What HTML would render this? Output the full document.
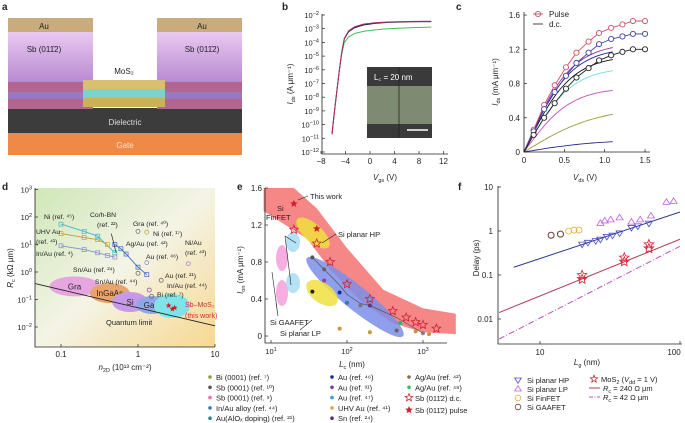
<!DOCTYPE html>
<html><head><meta charset="utf-8">
<style>
html,body{margin:0;padding:0;background:#fff;}
svg{display:block;font-family:"Liberation Sans",sans-serif;}
text{fill:#222;}
</style></head>
<body>
<svg id="fig" width="685" height="423" viewBox="0 0 685 423" xmlns="http://www.w3.org/2000/svg">
<defs>
<linearGradient id="gd" x1="0" y1="0" x2="1" y2="1">
<stop offset="0" stop-color="#cfe7b8"/><stop offset="0.5" stop-color="#f4f4e6"/><stop offset="1" stop-color="#f7d890"/>
</linearGradient>
<linearGradient id="gsb" x1="0" y1="0" x2="0" y2="1">
<stop offset="0" stop-color="#e9c9f1"/><stop offset="1" stop-color="#b98ad0"/>
</linearGradient>
</defs>
<g>
<text x="2" y="10" font-weight="bold" font-size="10">a</text>
<rect x="8" y="108" width="234" height="25" fill="#3c3c3c"/>
<rect x="8" y="133" width="234" height="22" fill="#ee8a45"/>
<text x="125" y="148" font-size="8" text-anchor="middle" style="fill:#fde0c8">Gate</text>
<text x="125" y="125" font-size="8" text-anchor="middle" style="fill:#ddd">Dielectric</text>
<rect x="8" y="32" width="85" height="50" fill="url(#gsb)"/>
<rect x="157" y="32" width="85" height="50" fill="url(#gsb)"/>
<rect x="8" y="82" width="85" height="27" fill="#b2668f"/>
<rect x="157" y="82" width="85" height="27" fill="#b2668f"/>
<rect x="8" y="92" width="85" height="7" fill="#8d7fd0" opacity="0.8"/>
<rect x="157" y="92" width="85" height="7" fill="#8d7fd0" opacity="0.8"/>
<rect x="8" y="18" width="85" height="14" fill="#c9ab7e"/>
<rect x="157" y="18" width="85" height="14" fill="#c9ab7e"/>
<text x="44" y="29" font-size="8" text-anchor="middle">Au</text>
<text x="202" y="29" font-size="8" text-anchor="middle">Au</text>
<text x="44" y="52" font-size="8" text-anchor="middle">Sb (011̄2)</text>
<text x="202" y="52" font-size="8" text-anchor="middle">Sb (011̄2)</text>
<rect x="83" y="80" width="82" height="9" fill="#d9c070"/>
<rect x="83" y="89" width="82" height="9" fill="#7fd2c8"/>
<rect x="83" y="98" width="82" height="9" fill="#c9b25a"/>
<text x="124" y="74" font-size="8" text-anchor="middle">MoS₂</text>
</g>
<text x="282" y="10" font-weight="bold" font-size="10">b</text>
<text x="456" y="10" font-weight="bold" font-size="10">c</text>
<text x="2" y="190" font-weight="bold" font-size="10">d</text>
<text x="237" y="190" font-weight="bold" font-size="10">e</text>
<text x="458" y="190" font-weight="bold" font-size="10">f</text>
<g id="gb"></g>
<g id="gc"></g>
<g id="gdd"></g>
<g id="ge"></g>
<g id="gf"></g>
</svg>
<script>
// ---- panel b data ----
const bVgs = [-6.2, -5.8, -5.4, -5, -4.6, -4.2, -3.5, -2.5, -1, 1, 3, 5, 7, 10];
const bPurple = [2e-11, 1e-9, 3e-8, 1e-6, 2e-5, 2e-4, 7e-4, 1.4e-3, 2.2e-3, 2.8e-3, 3.1e-3, 3.3e-3, 3.4e-3, 3.5e-3];
const bBlack = [2e-11, 1e-9, 3e-8, 1e-6, 2e-5, 1.8e-4, 6e-4, 1.2e-3, 1.9e-3, 2.5e-3, 2.9e-3, 3.1e-3, 3.2e-3, 3.3e-3];
const bGreen = [2e-11, 1e-9, 3e-8, 1e-6, 1.5e-5, 1e-4, 2.5e-4, 4.5e-4, 6.5e-4, 8.5e-4, 1e-3, 1.1e-3, 1.2e-3, 1.3e-3];
const bXTicks = [-8, -4, 0, 4, 8, 12];
const bYTicks = [-2, -3, -4, -5, -6, -7, -8, -9, -10, -11, -12];
// ---- panel c data ----
const cVpulse = [0, 0.12, 0.25, 0.38, 0.52, 0.65, 0.8, 0.93, 1.08, 1.22, 1.35, 1.5];
const cRed = [0, 0.26, 0.55, 0.78, 0.99, 1.16, 1.29, 1.39, 1.45, 1.49, 1.53, 1.53];
const cBlue = [0, 0.24, 0.5, 0.7, 0.89, 1.04, 1.16, 1.26, 1.32, 1.35, 1.38, 1.38];
const cBlack = [0, 0.2, 0.4, 0.57, 0.74, 0.87, 0.98, 1.07, 1.13, 1.17, 1.2, 1.2];
const cDcMax = [1.22, 1.17, 1.08, 0.95, 0.72, 0.44, 0.12];
const cDcColors = ["#9b2fa0", "#1e2a8a", "#111", "#6fdde0", "#c050c0", "#9a9a40", "#2a2a80"];
const cXTicks = [0, 0.5, 1.0, 1.5];
const cYTicks = [0, 0.4, 0.8, 1.2, 1.6];
// ---- panel d data ----
const dNiX = [0.1, 0.2, 0.3, 0.5];
const dNiY = [55, 30, 20, 5];
const dUhvX = [0.1, 0.2, 0.3, 0.4];
const dUhvY = [25, 18, 15, 10];
const dInX = [0.1, 0.2, 0.3, 0.4, 0.5];
const dInY = [9, 6.5, 5, 4, 3.5];
const dAgX = [0.5, 0.6, 0.7, 1.0, 1.3];
const dAgY = [10, 7, 4.5, 1.5, 0.8];
const dSingleX = [1.0, 1.3, 1.3, 4.5, 2.0, 1.5, 1.0, 1.4];
const dSingleY = [30, 28, 2.2, 2.0, 0.5, 0.13, 0.9, 0.22];
const dXTicks = [0.1, 1, 10];
const dYTicks = [3, 2, 1, 0, -1, -2];
// ---- panel e data ----
const eDcL = [20, 40, 60, 100, 200, 400, 600, 800, 1000, 1500];
const eDcI = [1.15, 1.0, 0.8, 0.56, 0.4, 0.27, 0.2, 0.15, 0.12, 0.08];
const ePulseL = [20, 40];
const ePulseI = [1.43, 1.16];
const eDotL = [35, 50, 80, 100, 150, 200, 450, 500, 800, 1000, 1200, 80, 200, 35, 50];
const eDotI = [0.85, 0.72, 0.47, 0.36, 0.33, 0.33, 0.06, 0.14, 0.05, 0.03, 0.02, 0.08, 0.04, 0.48, 0.6];
const eDotC = ["#555", "#666", "#1a2aa0", "#2c7bb8", "#777", "#6a2a8a", "#666", "#2bb673", "#c9953f", "#888", "#c9953f", "#c9953f", "#c9953f", "#222", "#9a3aaa"];
const eXTicks = [1, 2, 3];
const eYTicks = [0, 0.4, 0.8, 1.2, 1.6];
// ---- panel f data ----
const fHpL = [20, 22, 25, 27, 30, 33, 37, 45, 50, 60];
const fHpD = [0.5, 0.55, 0.6, 0.65, 0.75, 0.8, 0.9, 1.2, 1.3, 1.5];
const fLpL = [27, 29, 32, 37, 45, 52, 62, 80, 90];
const fLpD = [1.5, 1.7, 1.8, 2.0, 1.6, 1.8, 2.2, 4.5, 4.7];
const fFinL = [16, 17.5, 19];
const fFinD = [1.0, 1.05, 1.05];
const fGaaL = [12, 14];
const fGaaD = [0.8, 0.85];
const fMosL = [20, 40, 60];
const fMosD = [0.08, 0.2, 0.4];
const fYTicks = [1, 0, -1, -2];
const fYLabels = ["10", "1", "0.1", "0.01"];

const NS = "http://www.w3.org/2000/svg";
function mk(parent, tag, attrs, txt) {
  const el = document.createElementNS(NS, tag);
  for (const k in attrs) el.setAttribute(k, attrs[k]);
  if (txt !== undefined) el.textContent = txt;
  parent.appendChild(el);
  return el;
}
function pathFrom(xs, ys, fx, fy) {
  return xs.map((x, i) => (i ? "L" : "M") + fx(x).toFixed(1) + " " + fy(ys[i]).toFixed(1)).join(" ");
}
function star(cx, cy, r) {
  let p = "";
  for (let i = 0; i < 10; i++) {
    const a = -Math.PI / 2 + i * Math.PI / 5, rr = i % 2 ? r * 0.45 : r;
    p += (i ? "L" : "M") + (cx + rr * Math.cos(a)).toFixed(1) + " " + (cy + rr * Math.sin(a)).toFixed(1);
  }
  return p + "Z";
}
function tri(cx, cy, r, down) {
  const s = down ? -1 : 1;
  return `M${cx - r} ${cy + s * r * 0.6}L${cx + r} ${cy + s * r * 0.6}L${cx} ${cy - s * r}Z`;
}

// ================= panel b =================
const gb = document.getElementById("gb");
const bx = v => 370 + (v / 4) * 24.5;
const by = v => 152 - (Math.log10(v) + 12) * 13.7;
{
  let e;
  e = mk(gb, "rect", {x: 367, y: 67, width: 65, height: 71, fill: "#7f8a72"});
  
  
  mk(gb, "rect", {x: 367, y: 67, width: 65, height: 19, fill: "#3a3a3a"});
  mk(gb, "rect", {x: 367, y: 124, width: 65, height: 14, fill: "#3a3a3a"});
  mk(gb, "line", {x1: 399, y1: 67, x2: 399, y2: 138, stroke: "#222", "stroke-width": 0.8});
  mk(gb, "line", {x1: 407, y1: 130, x2: 428, y2: 130, stroke: "#fff", "stroke-width": 1.5});
  e = mk(gb, "text", {x: 374, y: 80, "font-size": 8, style: "fill:#fff"}, "L꜀ = 20 nm");
  
  
  [[bGreen, "#3fbf5a"], [bBlack, "#1a1a3a"], [bPurple, "#b0306a"]].forEach(([s, c]) => {
    const p = mk(gb, "path", {d: pathFrom(bVgs, s, bx, by), fill: "none", stroke: c, "stroke-width": 1});
    
    
  });
  e = mk(gb, "path", {d: "M322 14V154H448", fill: "none", stroke: "#222", "stroke-width": 0.8});
  
  
  bXTicks.forEach(t => {
    mk(gb, "line", {x1: bx(t), y1: 154, x2: bx(t), y2: 151, stroke: "#222", "stroke-width": 0.7});
    const l = mk(gb, "text", {x: bx(t), y: 164, "font-size": 8, "text-anchor": "middle"}, t < 0 ? "−" + (-t) : t);
    
    
  });
  bYTicks.forEach(t => {
    const y = by(Math.pow(10, t));
    mk(gb, "line", {x1: 322, y1: y, x2: 325, y2: y, stroke: "#222", "stroke-width": 0.7});
    const l = mk(gb, "text", {x: 319, y: y + 3, "font-size": 7.5, "text-anchor": "end"});
    l.innerHTML = '10<tspan dy="-3" font-size="5.5">' + (t < 0 ? "−" : "") + Math.abs(t) + '</tspan>';
    
    
  });
  e = mk(gb, "text", {x: 385, y: 180, "font-size": 8, "text-anchor": "middle"});
  e.innerHTML = '<tspan font-style="italic">V</tspan><tspan font-size="5.5" dy="2">gs</tspan><tspan dy="-2"> (V)</tspan>';
  
  
  e = mk(gb, "text", {x: 0, y: 0, "font-size": 8, "text-anchor": "middle", transform: "translate(293 84) rotate(-90)"});
  e.innerHTML = '<tspan font-style="italic">I</tspan><tspan font-size="5.5" dy="2">ds</tspan><tspan dy="-2"> (A μm⁻¹)</tspan>';
  
  
}

// ================= panel c =================
const gc = document.getElementById("gc");
const cx = v => 524 + v * 80.7;
const cy = v => 152 - v * 85.6;
{
  let e;
  cDcMax.forEach((m, i) => {
    const xs = [], ys = [];
    const k0 = m > 0.6 ? 1.9 : 1.2;
    for (let k = 0; k <= 22; k++) { const v = k * 0.05; xs.push(v); ys.push(m * Math.tanh(v / 1.1 * k0) / Math.tanh(k0)); }
    const p = mk(gc, "path", {d: pathFrom(xs, ys, cx, cy), fill: "none", stroke: cDcColors[i], "stroke-width": 0.9});
    
    
  });
  [[cRed, "#d0506a"], [cBlue, "#3a3ea0"], [cBlack, "#222"]].forEach(([s, c]) => {
    const p = mk(gc, "path", {d: pathFrom(cVpulse, s, cx, cy), fill: "none", stroke: c, "stroke-width": 0.9});
    
    
    s.forEach((v, i) => {
      if (i === 0) return;
      const m = mk(gc, "circle", {cx: cx(cVpulse[i]), cy: cy(v), r: 2.6, fill: "#fff", stroke: c, "stroke-width": 0.9});
      
      
    });
  });
  e = mk(gc, "path", {d: "M524 12V152H650", fill: "none", stroke: "#222", "stroke-width": 0.8});
  
  
  cXTicks.forEach(t => {
    mk(gc, "line", {x1: cx(t), y1: 152, x2: cx(t), y2: 149, stroke: "#222", "stroke-width": 0.7});
    const l = mk(gc, "text", {x: cx(t), y: 163, "font-size": 8, "text-anchor": "middle"}, t === 0 ? "0" : t.toFixed(1));
    
    
  });
  cYTicks.forEach(t => {
    mk(gc, "line", {x1: 524, y1: cy(t), x2: 527, y2: cy(t), stroke: "#222", "stroke-width": 0.7});
    const l = mk(gc, "text", {x: 520, y: cy(t) + 3, "font-size": 8, "text-anchor": "end"}, t === 0 ? "0" : t.toFixed(1));
    
    
  });
  e = mk(gc, "circle", {cx: 538, cy: 14, r: 2.6, fill: "#fff", stroke: "#d0506a", "stroke-width": 0.9});
  
  
  mk(gc, "line", {x1: 533, y1: 14, x2: 543, y2: 14, stroke: "#d0506a", "stroke-width": 0.9});
  e = mk(gc, "text", {x: 549, y: 17, "font-size": 8}, "Pulse");
  
  
  mk(gc, "line", {x1: 533, y1: 24, x2: 543, y2: 24, stroke: "#333", "stroke-width": 0.9});
  e = mk(gc, "text", {x: 549, y: 27, "font-size": 8}, "d.c.");
  
  
  e = mk(gc, "text", {x: 585, y: 180, "font-size": 8, "text-anchor": "middle"});
  e.innerHTML = '<tspan font-style="italic">V</tspan><tspan font-size="5.5" dy="2">ds</tspan><tspan dy="-2"> (V)</tspan>';
  
  
  e = mk(gc, "text", {x: 0, y: 0, "font-size": 8, "text-anchor": "middle", transform: "translate(498 82) rotate(-90)"});
  e.innerHTML = '<tspan font-style="italic">I</tspan><tspan font-size="5.5" dy="2">ds</tspan><tspan dy="-2"> (mA μm⁻¹)</tspan>';
  
  
}

// ================= panel d =================
const gd = document.getElementById("gdd");
const dx = v => 138 + 77 * Math.log10(v);
const dy = v => 327 - 27.5 * (Math.log10(v) + 2);
{
  let e;
  e = mk(gd, "rect", {x: 35, y: 188, width: 180, height: 159, fill: "url(#gd)"});
  
  
  const ells = [[0.15, 0.3, 25, 10, "#e7a6e0", "Gra"], [0.43, 0.17, 20, 10, "#e8a46e", "InGaAs"], [0.79, 0.081, 18, 10, "#c69ae8", "Si"], [1.52, 0.063, 16, 9, "#90a8e8", "GaN"], [2.76, 0.058, 18, 12, "#7fe3e8", ""]];
  ells.forEach(([x, y, rx, ry, c, t]) => {
    const el = mk(gd, "ellipse", {cx: dx(x), cy: dy(y), rx: rx, ry: ry, fill: c});
    
    
    if (t) {
      const l = mk(gd, "text", {x: dx(x), y: dy(y) + 3, "font-size": 8, "text-anchor": "middle"}, t);
      
      
    }
  });
  e = mk(gd, "path", {d: `M${dx(0.046)} ${dy(0.38)}L${dx(10)} ${dy(0.011)}`, stroke: "#222", "stroke-width": 0.9});
  
  
  e = mk(gd, "text", {x: 106, y: 325, "font-size": 7.5}, "Quantum limit");
  
  
  [[dNiX, dNiY, "#3cb8c8"], [dUhvX, dUhvY, "#c8a040"], [dInX, dInY, "#8890c8"], [dAgX, dAgY, "#3a6ac0"]].forEach(([xs, ys, c]) => {
    const p = mk(gd, "path", {d: pathFrom(xs, ys, dx, dy), fill: "none", stroke: c, "stroke-width": 0.9});
    
    
    xs.forEach((x, i) => {
      const m = mk(gd, "rect", {x: dx(x) - 2, y: dy(ys[i]) - 2, width: 4, height: 4, fill: "none", stroke: c, "stroke-width": 0.7});
      
      
    });
  });
  mk(gd, "line", {x1: dx(0.45), y1: dy(25), x2: dx(0.52), y2: dy(5), stroke: "#222", "stroke-width": 0.7});
  const sc = ["#777", "#b8b040", "#8890c8", "#b080d0", "#666", "#666", "#666", "#9050c0"];
  dSingleX.forEach((x, i) => {
    const m = mk(gd, "circle", {cx: dx(x), cy: dy(dSingleY[i]), r: 2, fill: "none", stroke: sc[i], "stroke-width": 0.8});
    
    
  });
  [[2.5, 0.06], [2.8, 0.045], [3.0, 0.05]].forEach(([x, y]) => {
    const s = mk(gd, "path", {d: star(dx(x), dy(y), 3), fill: "#d02030"});
    
    
  });
  const labs = [[44, 219, "Ni (ref. ⁴⁵)"], [90, 217, "Co/h-BN"], [97, 227, "(ref. ²²)"], [133, 226, "Gra (ref. ⁴⁰)"], [153, 236, "Ni (ref. ¹⁷)"], [36, 234, "UHV Au"], [36, 244, "(ref. ⁴¹)"], [126, 246, "Ag/Au (ref. ⁴²)"], [185, 245, "Ni/Au"], [185, 255, "(ref. ⁴³)"], [36, 256, "In/Au (ref. ⁴)"], [146, 259, "Au (ref. ⁴⁶)"], [73, 272, "Sn/Au (ref. ²⁴)"], [165, 278, "Au (ref. ²¹)"], [95, 284, "Sn/Au (ref. ⁴⁴)"], [167, 288, "In/Au (ref. ⁴⁴)"], [157, 297, "Bi (ref. ⁷)"]];
  labs.forEach(([x, y, t]) => {
    const l = mk(gd, "text", {x: x, y: y, "font-size": 6.8}, t);
    
    
  });
  e = mk(gd, "text", {x: 185, y: 307, "font-size": 7, style: "fill:#d03030"}, "Sb–MoS₂");
  
  
  e = mk(gd, "text", {x: 185, y: 318, "font-size": 7, style: "fill:#d03030"}, "(this work)");
  
  
  e = mk(gd, "path", {d: "M35 188V347H215", fill: "none", stroke: "#222", "stroke-width": 0.8});
  
  
  dXTicks.forEach(t => {
    mk(gd, "line", {x1: dx(t), y1: 347, x2: dx(t), y2: 344, stroke: "#222", "stroke-width": 0.7});
    const l = mk(gd, "text", {x: dx(t), y: 357, "font-size": 8, "text-anchor": "middle"}, String(t));
    
    
  });
  dYTicks.forEach(t => {
    const y = dy(Math.pow(10, t));
    mk(gd, "line", {x1: 35, y1: y, x2: 38, y2: y, stroke: "#222", "stroke-width": 0.7});
    const l = mk(gd, "text", {x: 32, y: y + 3, "font-size": 7.5, "text-anchor": "end"});
    l.innerHTML = '10<tspan dy="-3" font-size="5.5">' + (t < 0 ? "−" : "") + Math.abs(t) + '</tspan>';
    
    
  });
  e = mk(gd, "text", {x: 125, y: 370, "font-size": 8, "text-anchor": "middle"});
  e.innerHTML = '<tspan font-style="italic">n</tspan><tspan font-size="5.5" dy="2">2D</tspan><tspan dy="-2"> (10¹³ cm⁻²)</tspan>';
  
  
  e = mk(gd, "text", {x: 0, y: 0, "font-size": 8, "text-anchor": "middle", transform: "translate(13 268) rotate(-90)"});
  e.innerHTML = '<tspan font-style="italic">R</tspan><tspan font-size="5.5" dy="2">c</tspan><tspan dy="-2"> (kΩ μm)</tspan>';
  
  
}

// ================= panel e =================
const ge = document.getElementById("ge");
const ex = v => 271 + 76 * (Math.log10(v) - 1);
const ey = v => 336 - 92.5 * v;
{
  let e;
  const up = [[8, 1.6], [20, 1.6], [40, 1.38], [100, 0.95], [300, 0.5], [1000, 0.3], [2700, 0.24]];
  const lo = [[2700, 0.02], [1000, 0.04], [400, 0.14], [150, 0.38], [60, 0.72], [30, 1.05], [8, 1.35]];
  const pts = up.concat(lo).map(([l, i]) => ex(l).toFixed(1) + "," + ey(i).toFixed(1)).join(" ");
  e = mk(ge, "polygon", {points: pts, fill: "#f47a7a", opacity: 0.9});
  
  
  const regions = [[355, 297, 62, 12, 39, "#7d8ee8"], [322, 293, 18, 10, 35, "#f0e040"], [313, 233, 21, 9, 42, "#f0e040"], [282, 258, 6, 13, 0, "#f4a0dc"], [282, 293, 6, 13, 0, "#f4a0dc"], [293, 242, 7, 10, 0, "#a8dcf4"], [293, 283, 7, 10, 0, "#a8dcf4"]];
  regions.forEach(([cxx, cyy, rx, ry, rot, c]) => {
    const el = mk(ge, "ellipse", {cx: cxx, cy: cyy, rx: rx, ry: ry, fill: c, opacity: 0.85, transform: `rotate(${rot} ${cxx} ${cyy})`});
    
    
  });
  eDotL.forEach((l, i) => {
    const d = mk(ge, "circle", {cx: ex(l), cy: ey(eDotI[i]), r: 2, fill: eDotC[i]});
    
    
  });
  e = mk(ge, "path", {d: pathFrom([35, 50, 80, 100, 150, 200, 450, 1000], [0.85, 0.72, 0.55, 0.45, 0.35, 0.33, 0.2, 0.03], ex, ey), fill: "none", stroke: "#555", "stroke-width": 0.7});
  
  
  eDcL.forEach((l, i) => {
    const s = mk(ge, "path", {d: star(ex(l), ey(eDcI[i]), 4.5), fill: "none", stroke: "#d02030", "stroke-width": 0.8});
    
    
  });
  ePulseL.forEach((l, i) => {
    const s = mk(ge, "path", {d: star(ex(l), ey(ePulseI[i]), 4), fill: "#d02030"});
    
    
  });
  const labs = [[310, 199, "This work"], [277, 211, "Si"], [266, 220, "FinFET"], [338, 237, "Si planar HP"], [270, 325, "Si GAAFET"], [280, 336, "Si planar LP"]];
  labs.forEach(([x, y, t]) => {
    const l = mk(ge, "text", {x: x, y: y, "font-size": 7.5}, t);
    
    
  });
  mk(ge, "path", {d: "M308 196L298 200M336 234L322 243M285 236L296 243M285 236L291 285M278 316L276 303M278 316L272 272M300 330L312 320", fill: "none", stroke: "#222", "stroke-width": 0.6});
  e = mk(ge, "path", {d: "M265 188V343H447", fill: "none", stroke: "#222", "stroke-width": 0.8});
  
  
  eXTicks.forEach(t => {
    const x = ex(Math.pow(10, t));
    mk(ge, "line", {x1: x, y1: 343, x2: x, y2: 340, stroke: "#222", "stroke-width": 0.7});
    const l = mk(ge, "text", {x: x, y: 354, "font-size": 7.5, "text-anchor": "middle"});
    l.innerHTML = '10<tspan dy="-3" font-size="5.5">' + t + '</tspan>';
    
    
  });
  eYTicks.forEach(t => {
    mk(ge, "line", {x1: 265, y1: ey(t), x2: 268, y2: ey(t), stroke: "#222", "stroke-width": 0.7});
    const l = mk(ge, "text", {x: 262, y: ey(t) + 3, "font-size": 8, "text-anchor": "end"}, t === 0 ? "0" : t.toFixed(1));
    
    
  });
  e = mk(ge, "text", {x: 352, y: 367, "font-size": 8, "text-anchor": "middle"});
  e.innerHTML = '<tspan font-style="italic">L</tspan><tspan font-size="5.5" dy="2">c</tspan><tspan dy="-2"> (nm)</tspan>';
  
  
  e = mk(ge, "text", {x: 0, y: 0, "font-size": 8, "text-anchor": "middle", transform: "translate(243 270) rotate(-90)"});
  e.innerHTML = '<tspan font-style="italic">I</tspan><tspan font-size="5.5" dy="2">on</tspan><tspan dy="-2"> (mA μm⁻¹)</tspan>';
  
  
  const leg = [[210, "#8a9a40", "Bi (0001) (ref. ⁷)"], [210, "#555", "Sb (0001) (ref. ¹⁰)"], [210, "#e070b0", "Sb (0001) (ref. ⁹)"], [210, "#3a7ab0", "In/Au alloy (ref. ⁴⁴)"], [210, "#2a8a8a", "Au(AlOₓ doping) (ref. ²¹)"], [332, "#1a2aa0", "Au (ref. ⁴⁶)"], [332, "#7a3a9a", "Au (ref. ³¹)"], [332, "#3aa0e0", "Au (ref. ⁴⁷)"], [332, "#e0a050", "UHV Au (ref. ⁴¹)"], [332, "#5a2a7a", "Sn (ref. ²⁴)"], [409, "#8a6a4a", "Ag/Au (ref. ⁴²)"], [409, "#30c060", "Ag/Au (ref. ⁴⁸)"]];
  leg.forEach(([x, c, t], i) => {
    const y = 377 + (i % 5) * 10.3;
    const d = mk(ge, "circle", {cx: x, cy: y, r: 1.8, fill: c});
    
    
    const l = mk(ge, "text", {x: x + 6, y: y + 3, "font-size": 7.5}, t);
    
    
  });
  e = mk(ge, "path", {d: star(409, 397.6, 4), fill: "none", stroke: "#d02030", "stroke-width": 0.8});
  
  
  e = mk(ge, "text", {x: 415, y: 401, "font-size": 7.5}, "Sb (011̄2) d.c.");
  
  
  e = mk(ge, "path", {d: star(409, 410, 4), fill: "#d02030"});
  
  
  e = mk(ge, "text", {x: 415, y: 413, "font-size": 7.5}, "Sb (011̄2) pulse");
  
  
}

// ================= panel f =================
const gf = document.getElementById("gf");
const fx = v => 540 + 140 * (Math.log10(v) - 1);
const fy = v => 231 - 44 * Math.log10(v);
{
  let e;
  e = mk(gf, "path", {d: `M${fx(6.5)} ${fy(0.15)}L${fx(100)} ${fy(2.7)}`, stroke: "#2a3a8a", "stroke-width": 1});
  
  
  e = mk(gf, "path", {d: `M${fx(5.1)} ${fy(0.014)}L${fx(100)} ${fy(0.65)}`, stroke: "#b0405a", "stroke-width": 1});
  
  
  e = mk(gf, "path", {d: `M${fx(5.1)} ${fy(0.0035)}L${fx(100)} ${fy(0.45)}`, stroke: "#c050c0", "stroke-width": 1, "stroke-dasharray": "6 2 1 2"});
  
  
  fHpL.forEach((l, i) => {
    const m = mk(gf, "path", {d: tri(fx(l), fy(fHpD[i]), 3.5, true), fill: "none", stroke: "#4a4ac0", "stroke-width": 0.8});
    
    
  });
  fLpL.forEach((l, i) => {
    const m = mk(gf, "path", {d: tri(fx(l), fy(fLpD[i]), 3.5, false), fill: "none", stroke: "#c060e0", "stroke-width": 0.8});
    
    
  });
  fFinL.forEach((l, i) => {
    const m = mk(gf, "circle", {cx: fx(l), cy: fy(fFinD[i]), r: 3, fill: "none", stroke: "#e0b040", "stroke-width": 0.8});
    
    
  });
  fGaaL.forEach((l, i) => {
    const m = mk(gf, "circle", {cx: fx(l), cy: fy(fGaaD[i]), r: 3, fill: "none", stroke: "#6a3a3a", "stroke-width": 1});
    
    
  });
  fMosL.forEach((l, i) => {
    [0, 4].forEach(o => {
      const m = mk(gf, "path", {d: star(fx(l), fy(fMosD[i]) - o, 5), fill: "none", stroke: "#d02030", "stroke-width": 0.8});
      
      
    });
  });
  e = mk(gf, "path", {d: "M498 186V344H682", fill: "none", stroke: "#222", "stroke-width": 0.8});
  
  
  [[10, "10"], [100, "100"]].forEach(([t, s]) => {
    mk(gf, "line", {x1: fx(t), y1: 344, x2: fx(t), y2: 341, stroke: "#222", "stroke-width": 0.7});
    const l = mk(gf, "text", {x: fx(t) - (t === 100 ? 6 : 0), y: 355, "font-size": 8, "text-anchor": "middle"}, s);
    
    
  });
  fYTicks.forEach((t, i) => {
    const y = fy(Math.pow(10, t));
    mk(gf, "line", {x1: 498, y1: y, x2: 501, y2: y, stroke: "#222", "stroke-width": 0.7});
    const l = mk(gf, "text", {x: 493, y: y + 3, "font-size": 8, "text-anchor": "end"}, fYLabels[i]);
    
    
  });
  e = mk(gf, "text", {x: 587, y: 365, "font-size": 8, "text-anchor": "middle"});
  e.innerHTML = '<tspan font-style="italic">L</tspan><tspan font-size="5.5" dy="2">g</tspan><tspan dy="-2"> (nm)</tspan>';
  
  
  e = mk(gf, "text", {x: 0, y: 0, "font-size": 8, "text-anchor": "middle", transform: "translate(479 258) rotate(-90)"});
  e.textContent = "Delay (ps)";
  
  
  const L = [["tri-d", "#4a4ac0", "Si planar HP"], ["tri-u", "#c060e0", "Si planar LP"], ["circ", "#e0b040", "Si FinFET"], ["circ", "#6a3a3a", "Si GAAFET"]];
  L.forEach(([k, c, t], i) => {
    const y = 380 + i * 9;
    const m = k === "circ" ? mk(gf, "circle", {cx: 518, cy: y, r: 2.8, fill: "none", stroke: c, "stroke-width": 0.8})
      : mk(gf, "path", {d: tri(518, y, 3.3, k === "tri-d"), fill: "none", stroke: c, "stroke-width": 0.8});
    
    
    const l = mk(gf, "text", {x: 527, y: y + 3, "font-size": 7.5}, t);
    
    
  });
  e = mk(gf, "path", {d: star(594, 379, 3.8), fill: "none", stroke: "#d02030", "stroke-width": 0.8});
  
  
  e = mk(gf, "text", {x: 601, y: 382, "font-size": 7.5});
  e.innerHTML = 'MoS<tspan font-size="5.5" dy="2">2</tspan><tspan dy="-2"> (</tspan><tspan font-style="italic">V</tspan><tspan font-size="5.5" dy="2">dd</tspan><tspan dy="-2"> = 1 V)</tspan>';
  
  
  mk(gf, "line", {x1: 589, y1: 388, x2: 600, y2: 388, stroke: "#b0405a", "stroke-width": 1});
  e = mk(gf, "text", {x: 603, y: 391, "font-size": 7.5});
  e.innerHTML = '<tspan font-style="italic">R</tspan><tspan font-size="5.5" dy="2">c</tspan><tspan dy="-2"> = 240 Ω μm</tspan>';
  
  
  mk(gf, "line", {x1: 589, y1: 397, x2: 600, y2: 397, stroke: "#c050c0", "stroke-width": 1, "stroke-dasharray": "4 1.5 1 1.5"});
  e = mk(gf, "text", {x: 603, y: 400, "font-size": 7.5});
  e.innerHTML = '<tspan font-style="italic">R</tspan><tspan font-size="5.5" dy="2">c</tspan><tspan dy="-2"> = 42 Ω μm</tspan>';
  
  
}
</script>
</body></html>
